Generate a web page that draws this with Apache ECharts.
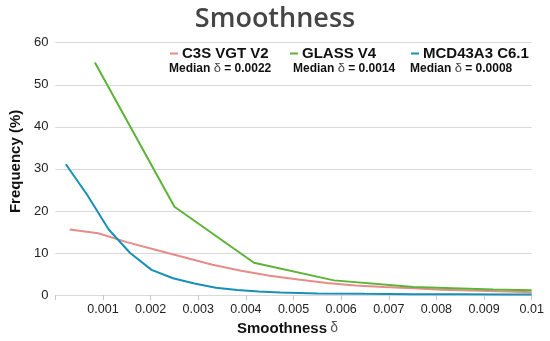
<!DOCTYPE html>
<html>
<head>
<meta charset="utf-8">
<script src="https://cdn.jsdelivr.net/npm/echarts@6/dist/echarts.min.js"></script>
<style>html,body{margin:0;padding:0;background:#fff;}#c{width:550px;height:341px;}</style>
</head>
<body>
<div id="c"></div>
<script>
// Data
const seriesNames = ['C3S VGT V2', 'GLASS V4', 'MCD43A3 C6.1'];
const medianLabels = ['0.0022', '0.0014', '0.0008'];

const c3sX = [0.0003, 0.0009, 0.0015, 0.0021, 0.0027, 0.0033, 0.0039, 0.0045, 0.0051, 0.0057, 0.0063, 0.0069, 0.0075, 0.0081, 0.0087, 0.0093, 0.01];
const c3sY = [15.6, 14.7, 12.6, 10.8, 9.0, 7.2, 5.8, 4.6, 3.7, 2.9, 2.3, 1.9, 1.6, 1.3, 1.1, 0.9, 0.7];

const glassX = [0.00083, 0.0025, 0.00417, 0.00585, 0.00752, 0.00919, 0.01];
const glassY = [55.3, 21.0, 7.7, 3.5, 1.9, 1.35, 1.15];

const mcdX = [0.00022, 0.00067, 0.00112, 0.00157, 0.00202, 0.00247, 0.00292, 0.00337, 0.00382, 0.00427, 0.00472, 0.0055, 0.0065, 0.0075, 0.0085, 0.0095, 0.01];
const mcdY = [31.1, 23.8, 15.6, 10.0, 6.0, 4.0, 2.75, 1.75, 1.2, 0.85, 0.6, 0.4, 0.3, 0.22, 0.18, 0.15, 0.13];

const xTicks = { min: 0, max: 0.01, interval: 0.001 };
const yTicks = { min: 0, max: 60, interval: 10 };

const colors = ['#e68c89', '#5cb338', '#1790b6'];

function pairs(xs, ys) { return xs.map((x, i) => [x, ys[i]]); }

const chart = echarts.init(document.getElementById('c'), null, { renderer: 'canvas' });

const legendLefts = [170, 290, 411];
const medianLefts = [169, 293, 410];

const option = {
  animation: false,
  backgroundColor: '#ffffff',
  title: {
    text: 'Smoothness',
    left: 'center',
    top: 1,
    textStyle: { fontFamily: 'Open Sans', fontWeight: 600, fontSize: 27, color: '#454545' }
  },
  legend: seriesNames.map((n, i) => ({
    data: [n],
    left: legendLefts[i],
    top: 46,
    padding: 0,
    icon: 'rect',
    itemWidth: 8,
    itemHeight: 2,
    itemGap: 4,
    textStyle: { fontFamily: 'Liberation Sans, Arial', fontWeight: 'bold', fontSize: 15, color: '#111', padding: [0, 0, 0, -1] }
  })),
  graphic: medianLabels.map((m, i) => ({
    type: 'text',
    left: medianLefts[i],
    top: 62,
    style: {
      text: '{b|Median }{d|δ}{b| = ' + m + '}',
      rich: {
        b: { fontFamily: 'Liberation Sans, Arial', fontWeight: 'bold', fontSize: 12, fill: '#111' },
        d: { fontFamily: 'Liberation Sans, Arial', fontWeight: 'normal', fontSize: 13, fill: '#444' }
      }
    }
  })),
  grid: { left: 49.5, right: 18.3, top: 42.7, bottom: 44.3, containLabel: false },
  xAxis: {
    type: 'value',
    min: xTicks.min, max: xTicks.max, interval: xTicks.interval,
    name: '{n|Smoothness} {d|δ}',
    nameLocation: 'middle',
    nameGap: 21,
    nameTextStyle: {
      padding: [0, 12, 0, 0],
      rich: {
        n: { fontFamily: 'Liberation Sans, Arial', fontWeight: 'bold', fontSize: 15, color: '#111' },
        d: { fontFamily: 'Liberation Sans, Arial', fontWeight: 'normal', fontSize: 14, color: '#555' }
      }
    },
    axisLine: { show: true, lineStyle: { color: '#d9d9d9', width: 1 } },
    axisTick: { show: true, length: 5, lineStyle: { color: '#c8c8c8' } },
    splitLine: { show: false },
    axisLabel: {
      margin: 8,
      fontFamily: 'Liberation Sans, Arial', fontSize: 12.5, color: '#222',
      formatter: v => v === 0 ? '' : String(+v.toFixed(4))
    }
  },
  yAxis: {
    type: 'value',
    min: yTicks.min, max: yTicks.max, interval: yTicks.interval,
    name: 'Frequency (%)',
    nameLocation: 'middle',
    nameRotate: 90,
    nameGap: 25,
    nameTextStyle: { fontFamily: 'Liberation Sans, Arial', fontWeight: 'bold', fontSize: 15, color: '#111', padding: [0, 0, 0, 15] },
    axisLine: { show: false },
    axisTick: { show: false },
    splitLine: { show: true, lineStyle: { color: '#d9d9d9', width: 1 } },
    axisLabel: { margin: 7, fontFamily: 'Liberation Sans, Arial', fontSize: 13, color: '#222' }
  },
  series: [
    { name: seriesNames[0], type: 'line', data: pairs(c3sX, c3sY), showSymbol: false, symbol: 'none', lineStyle: { width: 2, color: colors[0] }, itemStyle: { color: colors[0] } },
    { name: seriesNames[1], type: 'line', data: pairs(glassX, glassY), showSymbol: false, symbol: 'none', lineStyle: { width: 2, color: colors[1] }, itemStyle: { color: colors[1] } },
    { name: seriesNames[2], type: 'line', data: pairs(mcdX, mcdY), showSymbol: false, symbol: 'none', lineStyle: { width: 2, color: colors[2] }, itemStyle: { color: colors[2] } }
  ]
};
chart.setOption(option);
</script>
</body>
</html>
